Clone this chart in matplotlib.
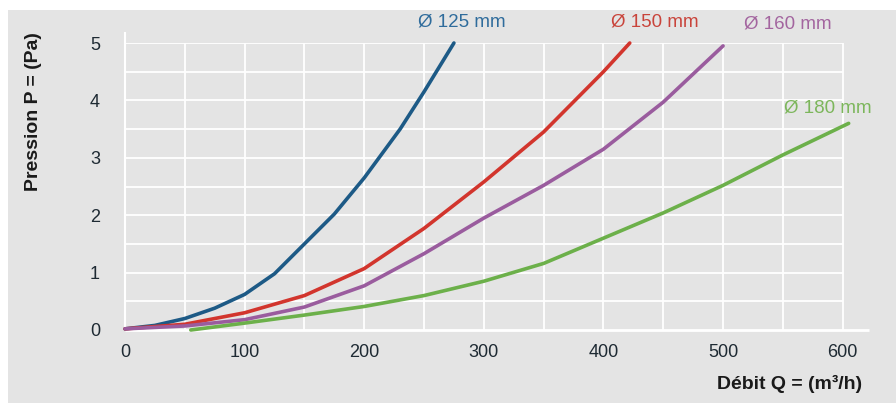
import matplotlib
matplotlib.use('Agg')
import numpy as np
import matplotlib.pyplot as plt
from matplotlib.patches import Rectangle

# debit Q (m3/h) and pression P (Pa)
q_125 = [0, 25, 50, 75, 100, 125, 150, 175, 200, 230, 250, 275]
p_125 = [0.02, 0.08, 0.2, 0.38, 0.62, 0.98, 1.5, 2.02, 2.65, 3.5, 4.15, 5.0]

q_150 = [0, 50, 100, 150, 200, 250, 300, 350, 400, 422]
p_150 = [0.02, 0.1, 0.3, 0.6, 1.07, 1.77, 2.58, 3.45, 4.5, 5.0]

q_160 = [0, 50, 100, 150, 200, 250, 300, 350, 400, 450, 500]
p_160 = [0.02, 0.07, 0.18, 0.4, 0.77, 1.33, 1.95, 2.52, 3.15, 3.97, 4.95]

q_180 = [55, 100, 150, 200, 250, 300, 350, 400, 450, 500, 550, 605]
p_180 = [0.0, 0.12, 0.26, 0.41, 0.6, 0.85, 1.16, 1.6, 2.04, 2.52, 3.05, 3.6]

labels = ['Ø 125 mm', 'Ø 150 mm', 'Ø 160 mm', 'Ø 180 mm']
line_colors = ['#1d5a86', '#d2352d', '#9a5c9e', '#6cb04a']
text_colors = ['#2f6c9c', '#c9443b', '#a3659f', '#7cb65b']

x_ticks = [0, 100, 200, 300, 400, 500, 600]
y_ticks = [0, 1, 2, 3, 4, 5]

narrow = ['Liberation Sans Narrow', 'Liberation Sans', 'DejaVu Sans']
regular = ['Liberation Sans', 'DejaVu Sans']

W, H = 896, 403
fig = plt.figure(figsize=(W / 100, H / 100), dpi=100)
fig.patch.set_facecolor('white')
fig.patches.append(Rectangle((8 / W, 0), 1, (H - 10) / H, transform=fig.transFigure,
                             facecolor='#e4e4e4', edgecolor='none', zorder=-10))

ax = fig.add_axes([125 / W, (H - 330) / H, (869 - 125) / W, (330 - 43) / H])
ax.set_facecolor('#e4e4e4')
ax.set_xlim(0, 622)
ax.set_ylim(0, 5)

# grid
for gx in np.arange(0, 601, 50):
    ax.vlines(gx, 0, 5, color='white', lw=1.3, zorder=1)
for gy in np.arange(0.5, 5.01, 0.5):
    ax.hlines(gy, 0, 600, color='white', lw=1.3, zorder=1)
ax.hlines(0, 0, 622, color='white', lw=2, zorder=1, clip_on=False)
ax.vlines(0, 0, 5.2, color='white', lw=1.5, zorder=1, clip_on=False)

for sp in ax.spines.values():
    sp.set_visible(False)

series = [(q_125, p_125), (q_150, p_150), (q_160, p_160), (q_180, p_180)]
for (q, p), c in zip(series, line_colors):
    ax.plot(q, p, color=c, lw=2.6, solid_capstyle='round', solid_joinstyle='round',
            zorder=3, clip_on=False)

ax.set_xticks(x_ticks)
ax.set_yticks(y_ticks)
ax.tick_params(length=0)
ax.set_xticklabels([str(v) for v in x_ticks], family=narrow, fontsize=13, color='#1e2a33')
ax.set_yticklabels([str(v) for v in y_ticks], family=narrow, fontsize=13, color='#1e2a33')
ax.tick_params(axis='x', pad=10)
ax.tick_params(axis='y', pad=18)

# curve labels
label_pos = [(462, 22), (655, 22), (788, 24), (828, 108)]
for t, c, (px, py) in zip(labels, text_colors, label_pos):
    fig.text(px / W, 1 - py / H, t, color=c, fontsize=13.5, family=regular,
             ha='center', va='center')

fig.text(862 / W, 1 - 384 / H, 'Débit Q = (m³/h)', family=narrow, fontsize=14,
         fontweight='bold', color='#1a1a1a', ha='right', va='center')
fig.text(33 / W, 1 - 112 / H, 'Pression P = (Pa)', family=narrow, fontsize=14,
         fontweight='bold', color='#1a1a1a', ha='center', va='center', rotation=90)

plt.savefig('out.png', dpi=100, facecolor=fig.get_facecolor())
